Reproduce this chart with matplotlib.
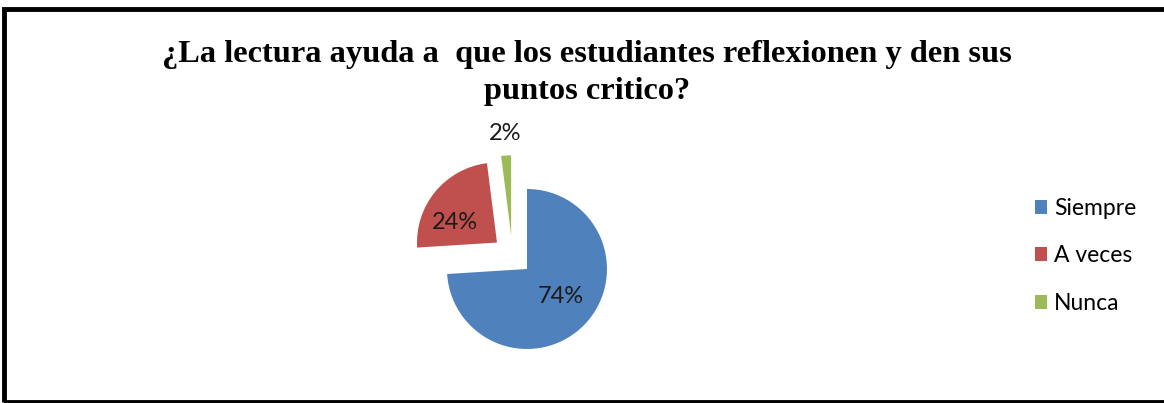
import matplotlib
matplotlib.use('Agg')

import matplotlib.pyplot as plt
from matplotlib.patches import Rectangle
import numpy as np

# ── Data ─────────────────────────────────────────────────────────────────────
CATEGORIES = ["Siempre", "A veces", "Nunca"]
VALUES = [74, 24, 2]
COLORS = ["#4F81BD", "#C0504D", "#9BBB59"]
TITLE = "¿La lectura ayuda a  que los estudiantes reflexionen y den sus\npuntos critico?"

W, H = 1164, 403
CX, CY, R = 512.4, 255.3, 80.0   # pie centre and radius in pixels


def main() -> None:
    fig = plt.figure(figsize=(W / 100, H / 100), dpi=100)
    fig.patch.set_facecolor('white')

    # frame (right side cut off in the original)
    fig.patches.append(Rectangle((4 / W, 1.5 / H), 1.2, (H - 10.5) / H,
                                 transform=fig.transFigure, fill=False,
                                 edgecolor='black', lw=3.5))

    ax = fig.add_axes([0, 0, 1, 1])
    wedges, _ = ax.pie(VALUES, colors=COLORS, startangle=90, counterclock=False,
                       explode=[0.25] * len(VALUES), radius=1,
                       wedgeprops=dict(linewidth=0))
    ax.set_xlim(-CX / R, (W - CX) / R)
    ax.set_ylim(-(H - CY) / R, CY / R)
    ax.set_aspect('equal')
    ax.axis('off')

    # percentage labels: distance from wedge tip, angle tweak in degrees
    dists = [0.54, 0.58, 1.28]
    tweaks = [4, 14, 0]
    for w, v, d, t in zip(wedges, VALUES, dists, tweaks):
        mid = np.deg2rad((w.theta1 + w.theta2) / 2 + t)
        x = w.center[0] + d * np.cos(mid)
        y = w.center[1] + d * np.sin(mid)
        ax.text(x, y, f"{v}%", ha='center', va='center', fontsize=17,
                family='Lato', color='#1a1a1a')

    fig.text(0.504, 0.818, TITLE, ha='center', va='center', fontsize=23.3,
             family='Liberation Serif', weight='bold', linespacing=1.35)

    ax.legend(wedges, CATEGORIES, loc='center left',
              bbox_to_anchor=(1014 / W, 1 - 256 / H), bbox_transform=fig.transFigure,
              frameon=False, handlelength=0.55, handleheight=0.55,
              handletextpad=0.3, labelspacing=1.15,
              prop=dict(family='Lato', size=16.5))

    fig.savefig("out.png", dpi=100, facecolor='white')
    plt.close(fig)


if __name__ == "__main__":
    main()
